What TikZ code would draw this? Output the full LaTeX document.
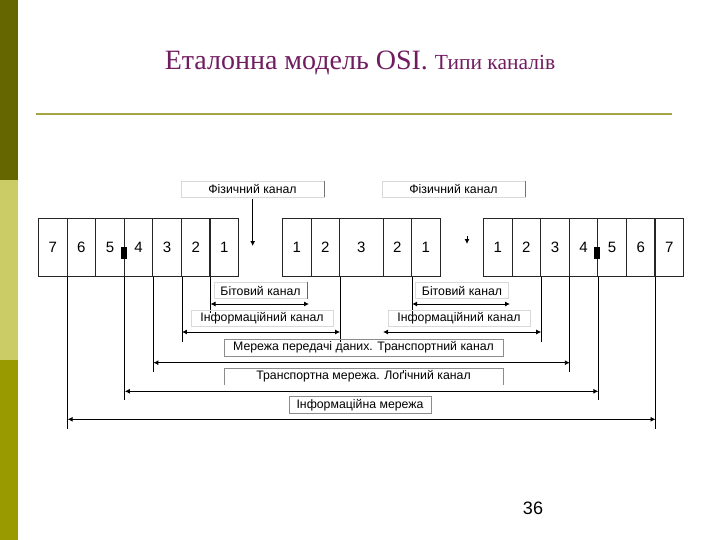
\documentclass[tikz,border=0pt]{standalone}
\usepackage{fontspec}
\setmainfont{Liberation Sans}
\newfontfamily\titlefont{Liberation Serif}
\usetikzlibrary{arrows.meta}
\definecolor{oliveA}{RGB}{102,102,0}
\definecolor{oliveB}{RGB}{204,204,102}
\definecolor{oliveC}{RGB}{153,153,0}
\definecolor{ruleol}{RGB}{165,165,70}
\definecolor{titlec}{RGB}{112,28,96}
\begin{document}
\begin{tikzpicture}[x=1pt,y=-1pt,
 >={Latex[length=5pt,width=5pt]},
 cell/.style={draw=black!85, line width=1.1pt, minimum height=58pt, minimum width=28.57pt, inner sep=0pt, font=\fontsize{15}{15}\selectfont, anchor=north west},
 lbl/.style={font=\fontsize{12.3}{13}\selectfont, inner sep=0pt, minimum height=16pt},
 gbox/.style={lbl, draw=black!45, line width=0.6pt},
 fbox/.style={lbl, draw=black!15, line width=0.6pt},
 dim/.style={line width=0.9pt, <->},
 vl/.style={line width=0.9pt},
 blk/.style={fill=black, minimum width=6pt, minimum height=12pt, inner sep=0pt}]
\useasboundingbox (0,0) rectangle (720,540);
% sidebar
\fill[oliveA] (0,0) rectangle (18,180);
\fill[oliveB] (0,180) rectangle (18,360);
\fill[oliveC] (0,360) rectangle (18,540);
% title
\node[titlec, anchor=base, inner sep=0pt] (title) at (360,70) {\titlefont\fontsize{28}{28}\selectfont Еталонна модель OSI. {\fontsize{21.5}{21.5}\selectfont Типи каналів}};
\draw[ruleol, line width=1.6pt] (36,114) -- (672,114);
% left block
\node[cell] (L7) at (38,218) {7};
\node[cell] (L6) at (66.57,218) {6};
\node[cell] (L5) at (95.14,218) {5};
\node[cell] (L4) at (123.71,218) {4};
\node[cell] (L3) at (152.29,218) {3};
\node[cell] (L2) at (180.86,218) {2};
\node[cell] (L1) at (209.43,218) {1};
% middle block
\node[cell, minimum width=28.5pt] (M1) at (282,218) {1};
\node[cell, minimum width=28.5pt] (M2) at (310.5,218) {2};
\node[cell, minimum width=43.5pt] (M3) at (339,218) {3};
\node[cell, minimum width=28.5pt] (M4) at (382.5,218) {2};
\node[cell, minimum width=28.5pt] (M5) at (411,218) {1};
% right block
\node[cell] (R1) at (483,218) {1};
\node[cell] (R2) at (511.57,218) {2};
\node[cell] (R3) at (540.14,218) {3};
\node[cell] (R4) at (568.71,218) {4};
\node[cell] (R5) at (597.29,218) {5};
\node[cell] (R6) at (625.86,218) {6};
\node[cell] (R7) at (654.43,218) {7};
% black marks
\node[blk] (mkL) at (123.71,253) {};
\node[blk] (mkR) at (597.29,253) {};
% physical channel labels
\node[fbox, minimum width=143pt] (ph1) at (252.5,189) {Фізичний канал};
\draw[black!55, line width=0.6pt] (ph1.north east) -- (ph1.south east);
\node[fbox, minimum width=143pt] (ph2) at (453.5,189) {Фізичний канал};
\draw[black!55, line width=0.6pt] (ph2.north east) -- (ph2.south east);
\coordinate (p1a) at (252.7,199);
\coordinate (p1b) at (252.7,246);
\draw[vl, ->] (p1a) -- (p1b);
\coordinate (p2a) at (467,236);
\coordinate (p2b) at (467,244);
\draw[vl, ->] (p2a) -- (p2b);
% vertical leaders
\coordinate (v1) at ([yshift=-152pt]L7.south east);
\coordinate (v2) at ([yshift=-123.3pt]L5.south east);
\coordinate (v3) at ([yshift=-94.7pt]L4.south east);
\coordinate (v4) at ([yshift=-65pt]L3.south east);
\coordinate (v5) at ([yshift=-36pt]L2.south east);
\coordinate (v6) at ([yshift=-65pt]M2.south east);
\coordinate (v7) at ([yshift=-36pt]M4.south east);
\coordinate (v8) at ([yshift=-65pt]R2.south east);
\coordinate (v9) at ([yshift=-94.7pt]R3.south east);
\coordinate (v10) at ([yshift=-123.3pt]R4.south east);
\coordinate (v11) at ([yshift=-152pt]R6.south east);
\draw[vl] (L7.south east) -- (v1);
\draw[vl] (L5.south east) -- (v2);
\draw[vl] (L4.south east) -- (v3);
\draw[vl] (L3.south east) -- (v4);
\draw[vl] (L2.south east) -- (v5);
\draw[vl] (M2.south east) -- (v6);
\draw[vl] (M4.south east) -- (v7);
\draw[vl] (R2.south east) -- (v8);
\draw[vl] (R3.south east) -- (v9);
\draw[vl] (R4.south east) -- (v10);
\draw[vl] (R6.south east) -- (v11);
% bit channel
\node[fbox, minimum width=93pt] (b1) at (260.5,290.5) {Бітовий канал};
\draw[black!60, line width=0.6pt] (b1.north east) -- (b1.south east);
\node[fbox, minimum width=93pt] (b2) at (462,290.5) {Бітовий канал};
\coordinate (b1a) at (L2.south east |- 0,304);
\coordinate (b1b) at (309,304);
\draw[dim] (b1a) -- (b1b);
\coordinate (b2a) at (M4.south east |- 0,304);
\coordinate (b2b) at (510,304);
\draw[dim] (b2a) -- (b2b);
% information channel
\node[fbox, minimum width=142pt] (i1) at (262,318.7) {Інформаційний канал};
\node[fbox, minimum width=142pt] (i2) at (459,318.7) {Інформаційний канал};
\coordinate (i1a) at (L3.south east |- 0,332);
\coordinate (i1b) at (M2.south east |- 0,332);
\draw[dim] (i1a) -- (i1b);
\coordinate (i2a) at (383,332);
\coordinate (i2b) at (R2.south east |- 0,332);
\draw[dim] (i2a) -- (i2b);
% transport
\node[gbox, minimum width=279pt, minimum height=17pt] (tr) at (363.5,347.5) {Мережа передачі даних. Транспортний канал};
\coordinate (t1a) at (L4.south east |- 0,362.7);
\coordinate (t1b) at (R3.south east |- 0,362.7);
\draw[dim] (t1a) -- (t1b);
% logical
\node[lbl, minimum width=279pt, minimum height=17pt] (lg) at (363.5,376.5) {Транспортна мережа. Лоґічний канал};
\draw[black!45, line width=0.6pt] (lg.south west) -- (lg.north west) -- (lg.north east) -- (lg.south east);
\coordinate (l1a) at (L5.south east |- 0,391.3);
\coordinate (l1b) at (R4.south east |- 0,391.3);
\draw[dim] (l1a) -- (l1b);
% information network
\node[gbox, minimum width=142pt, minimum height=17pt] (net) at (360,405) {Інформаційна мережа};
\coordinate (n1a) at (L7.south east |- 0,419.3);
\coordinate (n1b) at (R6.south east |- 0,419.3);
\draw[dim] (n1a) -- (n1b);
% page number
\node[font=\fontsize{18}{18}\selectfont, inner sep=0pt] (pg) at (533,508) {36};
\end{tikzpicture}
\end{document}
